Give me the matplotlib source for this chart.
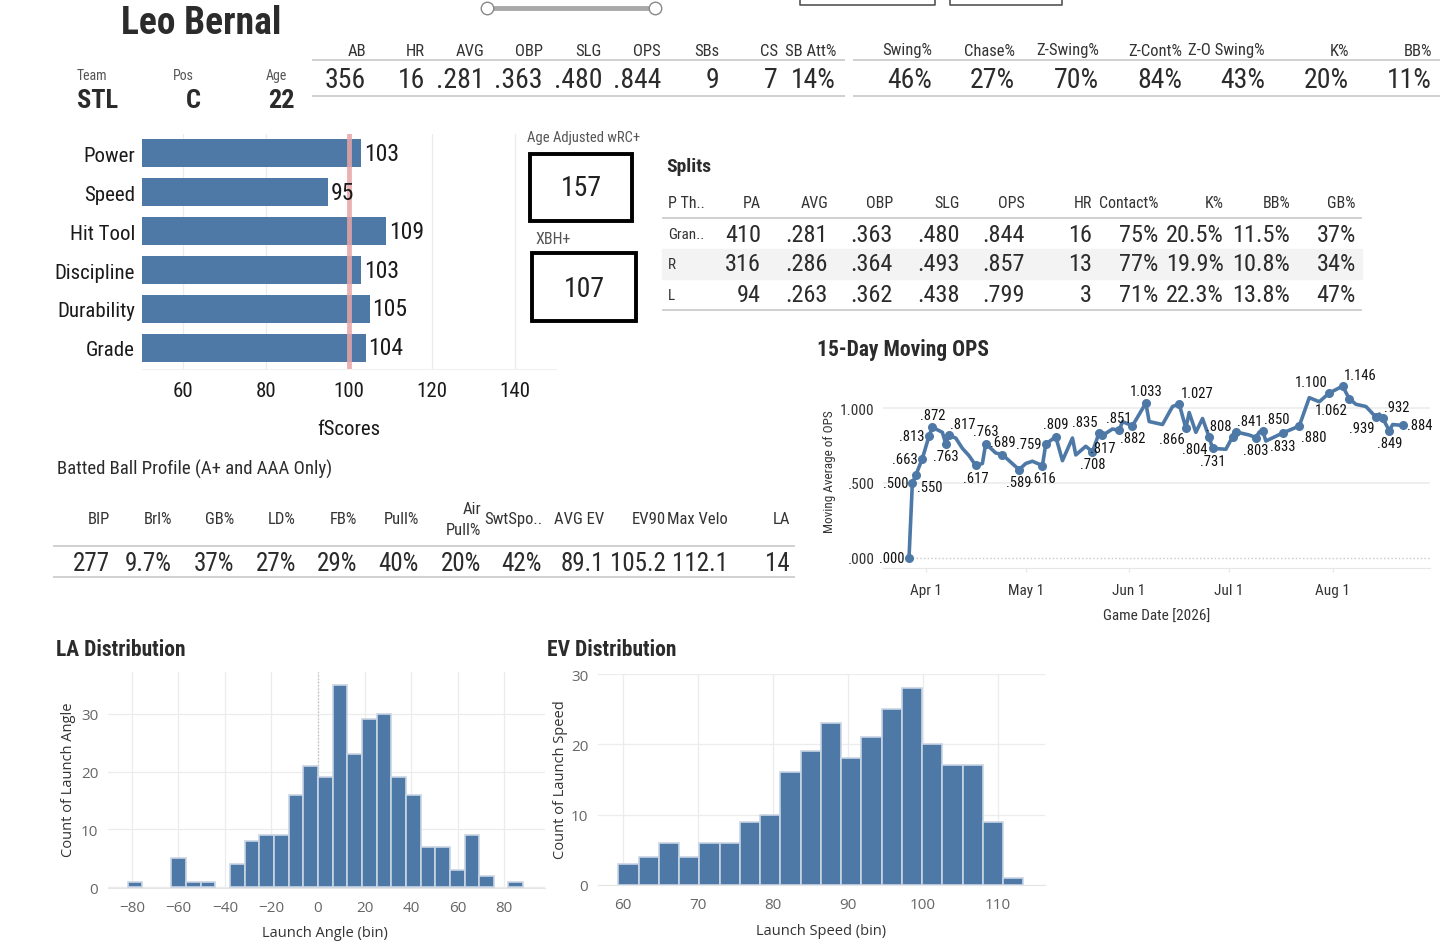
import os
import re
import numpy as np
import pandas as pd
import matplotlib
matplotlib.use("Agg")
import matplotlib.pyplot as plt
from matplotlib import font_manager as fm
from matplotlib.patches import Rectangle

# ---- data ----
player = "Leo Bernal"
team, pos, age = "STL", "C", "22"

top_cols1 = ["AB", "HR", "AVG", "OBP", "SLG", "OPS", "SBs", "CS", "SB Att%"]
top_vals1 = ["356", "16", ".281", ".363", ".480", ".844", "9", "7", "14%"]
top_cols2 = ["Swing%", "Chase%", "Z-Swing%", "Z-Cont%", "Z-O Swing%", "K%", "BB%"]
top_vals2 = ["46%", "27%", "70%", "84%", "43%", "20%", "11%"]

fscore_cats = ["Power", "Speed", "Hit Tool", "Discipline", "Durability", "Grade"]
fscore_vals = [103, 95, 109, 103, 105, 104]
wrc_plus = 157
xbh_plus = 107

split_cols = ["P Th..", "PA", "AVG", "OBP", "SLG", "OPS", "HR", "Contact%", "K%", "BB%", "GB%"]
split_gran = ["Gran..", "410", ".281", ".363", ".480", ".844", "16", "75%", "20.5%", "11.5%", "37%"]
split_r = ["R", "316", ".286", ".364", ".493", ".857", "13", "77%", "19.9%", "10.8%", "34%"]
split_l = ["L", "94", ".263", ".362", ".438", ".799", "3", "71%", "22.3%", "13.8%", "47%"]

bb_cols = ["BIP", "Brl%", "GB%", "LD%", "FB%", "Pull%", "Air\nPull%", "SwtSpo..",
           "AVG EV", "EV90", "Max Velo", "LA"]
bb_vals = ["277", "9.7%", "37%", "27%", "29%", "40%", "20%", "42%", "89.1", "105.2", "112.1", "14"]

ops_dates = ["2026-03-27", "2026-03-28", "2026-03-29", "2026-03-31", "2026-04-02", "2026-04-03",
             "2026-04-06", "2026-04-07", "2026-04-08", "2026-04-10", "2026-04-12", "2026-04-14",
             "2026-04-16", "2026-04-18", "2026-04-19", "2026-04-22", "2026-04-24", "2026-04-29",
             "2026-05-01", "2026-05-03", "2026-05-06", "2026-05-07", "2026-05-10", "2026-05-12",
             "2026-05-15", "2026-05-16", "2026-05-19", "2026-05-21", "2026-05-23", "2026-05-24",
             "2026-05-27", "2026-05-29", "2026-05-30", "2026-06-02", "2026-06-06", "2026-06-07",
             "2026-06-11", "2026-06-12", "2026-06-14", "2026-06-16", "2026-06-18", "2026-06-19",
             "2026-06-21", "2026-06-23", "2026-06-25", "2026-06-26", "2026-06-30", "2026-07-02",
             "2026-07-03", "2026-07-07", "2026-07-09", "2026-07-10", "2026-07-11", "2026-07-12",
             "2026-07-17", "2026-07-22", "2026-07-25", "2026-07-28", "2026-07-31", "2026-08-04",
             "2026-08-06", "2026-08-08", "2026-08-11", "2026-08-14", "2026-08-15", "2026-08-16",
             "2026-08-18", "2026-08-19", "2026-08-22"]
ops_vals = [0.000, 0.500, 0.550, 0.663, 0.813, 0.872,
            0.838, 0.763, 0.817, 0.800, 0.731, 0.682,
            0.617, 0.630, 0.763, 0.700, 0.689, 0.589,
            0.630, 0.645, 0.616, 0.759, 0.809, 0.649,
            0.800, 0.687, 0.745, 0.708, 0.835, 0.817,
            0.860, 0.851, 0.909, 0.882, 1.033, 0.910,
            0.890, 0.930, 1.010, 1.027, 0.866, 0.970,
            0.838, 0.930, 0.804, 0.731, 0.725, 0.808,
            0.841, 0.820, 0.803, 0.840, 0.850, 0.780,
            0.833, 0.880, 1.069, 1.042, 1.100, 1.146,
            1.062, 1.025, 1.010, 0.939, 0.960, 0.932,
            0.849, 0.890, 0.884]
ops_labeled = [1, 1, 1, 1, 1, 1,
               0, 1, 1, 0, 0, 0,
               1, 0, 1, 0, 1, 1,
               0, 0, 1, 1, 1, 0,
               0, 0, 0, 1, 1, 1,
               0, 1, 0, 1, 1, 0,
               0, 0, 0, 1, 1, 0,
               0, 0, 1, 1, 0, 1,
               1, 0, 1, 0, 1, 0,
               1, 1, 0, 0, 1, 1,
               1, 0, 0, 1, 0, 1,
               1, 0, 1]
# where each point label sits relative to its point (labeled points only)
ops_lab_pos = ["l", "l", "br", "l", "l", "a", "b", "ar", "b", "a", "a", "b", "b", "l", "a",
               "b", "al", "b", "a", "b", "a", "ar", "bl", "bl", "b", "al", "ar", "b", "ar", "b",
               "br", "al", "ar", "bl", "bl", "ar", "b", "r"]
ops_ticks = ["2026-04-01", "2026-05-01", "2026-06-01", "2026-07-01", "2026-08-01"]
ops_tick_labels = ["Apr 1", "May 1", "Jun 1", "Jul 1", "Aug 1"]

la_bin_width = 6.3
la_bins = [-13, -10, -9, -8, -6, -5, -4, -3, -2, -1, 0, 1, 2, 3, 4, 5, 6, 7, 8, 9, 10, 11, 13]
la_counts = [1, 5, 1, 1, 4, 8, 9, 9, 16, 21, 19, 35, 23, 29, 30, 19, 16, 7, 7, 3, 9, 2, 1]

ev_bin_width = 2.7
ev_bins = list(range(22, 42))
ev_counts = [3, 4, 6, 4, 6, 6, 9, 10, 16, 19, 23, 18, 21, 25, 28, 20, 17, 17, 9, 1]

# ---- fonts: look for an installed condensed face ----
font_files = {}
for f in fm.fontManager.ttflist:
    key = re.sub(r"[^a-z]", "", os.path.splitext(os.path.basename(f.fname))[0].lower())
    font_files.setdefault(key, f.fname)


def find_font(keys):
    for k in keys:
        if k in font_files:
            return font_files[k]
    return None


cond_reg = find_font(["robotocondensedregular", "robotocondensed", "liberationsansnarrowregular",
                      "notosanscondensed", "dejavusanscondensed"])
cond_bold = find_font(["robotocondensedbold", "liberationsansnarrowbold",
                       "notosanscondensedbold", "dejavusanscondensedbold"])


def narrow(size, bold=False):
    f = cond_bold if bold else cond_reg
    if f is None and bold and cond_reg is not None:
        return fm.FontProperties(fname=cond_reg, size=size, weight="bold")
    if f is None:
        return fm.FontProperties(family="DejaVu Sans", stretch="condensed", size=size * 0.85,
                                 weight="bold" if bold else "normal")
    return fm.FontProperties(fname=f, size=size)


def plain(size):
    return fm.FontProperties(family=["Open Sans", "DejaVu Sans"], size=size)


# ---- style ----
W, H = 1456, 953
BLUE = "#4e79a7"
LINE = "#d0d0d0"
GRID = "#ececec"

fig = plt.figure(figsize=(W / 100, H / 100), dpi=100)
fig.patch.set_facecolor("white")


def px_axes(x0, y0, x1, y1):
    return fig.add_axes([x0 / W, 1 - y1 / H, (x1 - x0) / W, (y1 - y0) / H])


# overlay in pixel coordinates for texts and table rules
ov = fig.add_axes([0, 0, 1, 1])
ov.set_xlim(0, W)
ov.set_ylim(H, 0)
ov.axis("off")
ov.set_zorder(10)


def txt(x, y, s, size, ha="left", va="center", bold=False, color="#222222", fp=None, **kw):
    ov.text(x, y, s, ha=ha, va=va, color=color,
            fontproperties=fp if fp is not None else narrow(size, bold), **kw)


def hline(y, x0, x1, color=LINE, lw=1.4):
    ov.plot([x0, x1], [y, y], color=color, lw=lw, solid_capstyle="butt")


# ---- header ----
txt(201, 24, player, 27, ha="center", bold=True, color="#2b2b2b")
ov.plot([487, 655], [9, 9], color="#a8a8a8", lw=3.5)
ov.plot([487, 655], [9, 9], "o", ms=9, mfc="white", mec="#888888", mew=1)
for bx0, bx1 in [(800, 935), (950, 1062)]:
    ov.plot([bx0, bx0, bx1, bx1], [-2, 6, 6, -2], color="#555555", lw=1.2)

for lab, val, xl, xv in [("Team", team, 92, 98), ("Pos", pos, 183, 193), ("Age", age, 276, 281)]:
    txt(xl, 76, lab, 10, ha="center", color="#555555")
    txt(xv, 101, val, 19, ha="center", bold=True, color="#2b2b2b")

x1s = [366, 425, 484, 543, 602, 661, 719, 778, 836]
for c, v, x in zip(top_cols1, top_vals1, x1s):
    txt(x, 51, c, 12, ha="right", color="#333333")
    txt(x, 81, v, 20, ha="right", color="#2b2b2b")
hline(61, 312, 845)
hline(97, 312, 845)
x2s = [932, 1015, 1099, 1182, 1265, 1349, 1432]
for c, v, x in zip(top_cols2, top_vals2, x2s):
    txt(x, 51, c, 12, ha="right", color="#333333")
    txt(x, 81, v, 20, ha="right", color="#2b2b2b")
hline(61, 853, 1440)
hline(97, 853, 1440)

# ---- fScores ----
ax = px_axes(142, 135, 556, 370)
ypos = np.arange(len(fscore_cats))
ax.barh(ypos, fscore_vals, height=0.72, color=BLUE, zorder=2)
ax.axvline(100, color="#e8a6a6", lw=3.5, alpha=0.85, zorder=3)
for y, v in zip(ypos, fscore_vals):
    ax.text(v + 0.6, y, str(v), va="center", ha="left", fontproperties=narrow(17), color="#1a1a1a")
ax.set_xlim(50, 150)
ax.set_ylim(5.54, -0.49)
ax.set_xticks([60, 80, 100, 120, 140])
ax.set_yticks(ypos)
ax.set_yticklabels(fscore_cats)
ax.grid(axis="x", color=GRID, lw=0.9, zorder=0)
ax.tick_params(length=0, pad=5)
ax.tick_params(axis="x", pad=9)
for t in ax.get_xticklabels() + ax.get_yticklabels():
    t.set_fontproperties(narrow(15))
    t.set_color("#1a1a1a")
for s in ["top", "left", "right"]:
    ax.spines[s].set_visible(False)
ax.spines["bottom"].set_color("#f0f0f0")
ax.set_xlabel("fScores", fontproperties=narrow(15), labelpad=13, color="#1a1a1a")

txt(527, 138, "Age Adjusted wRC+", 10.5, color="#555555")
ov.add_patch(Rectangle((530, 155), 102, 67, fill=False, lw=2.8, ec="black"))
txt(581, 189, str(wrc_plus), 20, ha="center")
txt(535, 240, "XBH+", 11.5, color="#555555")
ov.add_patch(Rectangle((532, 254), 104, 68, fill=False, lw=2.8, ec="black"))
txt(584, 290, str(xbh_plus), 20, ha="center")

# ---- splits ----
txt(666, 167, "Splits", 14, bold=True, color="#2b2b2b")
sx = [668, 761, 828, 893, 960, 1025, 1092, 1158, 1224, 1290, 1356]
ov.add_patch(Rectangle((662, 250), 700, 30, color="#f3f3f3", zorder=0))
for i, c in enumerate(split_cols):
    txt(sx[i], 204, c, 11.5, ha="left" if i == 0 else "right", color="#333333")
for row, y in zip([split_gran, split_r, split_l], [235, 265, 296]):
    for i, v in enumerate(row):
        if i == 0:
            txt(sx[i], y, v, 11, color="#333333")
        else:
            txt(sx[i], y, v, 17.5, ha="right", color="#2b2b2b")
hline(219, 662, 1362)
hline(311, 662, 1362)

# ---- batted ball profile ----
txt(57, 469, "Batted Ball Profile (A+ and AAA Only)", 13.5, color="#2b2b2b")
bx = [110, 172, 234, 296, 357, 419, 481, 542, 604, 666, 728, 790]
for c, v, x in zip(bb_cols, bb_vals, bx):
    txt(x, 520, c, 12, ha="right", color="#333333", linespacing=1.5)
    txt(x, 564, v, 18, ha="right", color="#2b2b2b")
hline(547, 53, 795)
hline(578, 53, 795)

# ---- 15-day moving OPS ----
axo = px_axes(883, 375, 1430, 569)
d = pd.to_datetime(ops_dates)
v = np.array(ops_vals)
lab = np.array(ops_labeled, dtype=bool)
axo.plot(d, v, color=BLUE, lw=2.6, solid_joinstyle="round", zorder=3)
axo.plot(d[lab], v[lab], "o", ms=5.5, color=BLUE, zorder=4)
offs = {"l": (-3, 0, "right", "center"), "r": (3, 0, "left", "center"),
        "a": (0, 4, "center", "bottom"), "b": (0, -4, "center", "top"),
        "al": (-1, 3, "right", "bottom"), "ar": (1, 3, "left", "bottom"),
        "bl": (-1, -3, "right", "top"), "br": (1, -3, "left", "top")}
for dd, vv, p in zip(d[lab], v[lab], ops_lab_pos):
    dx, dy, ha, va = offs[p]
    s = f"{vv:.3f}"
    s = s[1:] if s.startswith("0") else s
    axo.annotate(s, (dd, vv), xytext=(dx, dy), textcoords="offset points", ha=ha, va=va,
                 fontproperties=narrow(10.5), color="#111111", zorder=5)
apr1 = pd.Timestamp("2026-04-01")
axo.set_xlim(apr1 - pd.Timedelta(days=12.8), apr1 + pd.Timedelta(days=151.2))
axo.set_ylim(-0.067, 1.227)
axo.set_yticks([0, 0.5, 1.0])
axo.set_yticklabels([".000", ".500", "1.000"])
axo.set_xticks(pd.to_datetime(ops_ticks))
axo.set_xticklabels(ops_tick_labels)
for yv in [0.5, 1.0]:
    axo.axhline(yv, color=GRID, lw=1.2, zorder=0)
axo.axhline(0, color="#c8c8c8", lw=1, ls=":", zorder=0)
for s in ["top", "left", "right"]:
    axo.spines[s].set_visible(False)
axo.spines["bottom"].set_color("#e6e6e6")
axo.tick_params(axis="y", length=0, pad=6, labelcolor="#333333")
axo.tick_params(axis="x", length=3, color="#e6e6e6", pad=8, labelcolor="#333333")
for t in axo.get_xticklabels() + axo.get_yticklabels():
    t.set_fontproperties(narrow(11))
txt(817, 350, "15-Day Moving OPS", 15.5, bold=True, color="#2b2b2b")
txt(830, 472, "Moving Average of OPS", 9.5, ha="center", rotation=90, color="#333333")
txt(1157, 617, "Game Date [2026]", 11, ha="center", color="#333333")


# ---- histograms ----
def hist_axes(a, bins, counts, w, xlim, ylim, xt, yt):
    a.bar(np.array(bins) * w, counts, width=w, align="edge", color=BLUE,
          edgecolor="#c9d5e4", lw=1.2, zorder=3)
    a.set_xlim(*xlim)
    a.set_ylim(*ylim)
    a.set_xticks(xt)
    a.set_yticks(yt)
    a.grid(color=GRID, lw=0.9, zorder=0)
    a.set_axisbelow(True)
    for s in ["top", "left", "right"]:
        a.spines[s].set_visible(False)
    a.spines["bottom"].set_color("#e6e6e6")
    a.tick_params(length=0, labelcolor="#666666")
    a.tick_params(axis="x", pad=9)
    a.tick_params(axis="y", pad=7)
    for t in a.get_xticklabels() + a.get_yticklabels():
        t.set_fontproperties(plain(11))


axl = px_axes(108, 673, 545, 889)
hist_axes(axl, la_bins, la_counts, la_bin_width, (-90.3, 97.6), (-0.12, 37.2),
          [-80, -60, -40, -20, 0, 20, 40, 60, 80], [0, 10, 20, 30])
axl.axvline(0, color="#bbbbbb", lw=0.9, ls=":", zorder=1)
txt(56, 650, "LA Distribution", 15.5, bold=True, color="#2b2b2b")
txt(68, 780, "Count of Launch Angle", 11, ha="center", rotation=90, color="#333333", fp=plain(10.5))
txt(325, 934, "Launch Angle (bin)", 11, ha="center", color="#333333", fp=plain(10.5))

axe = px_axes(598, 675, 1045, 886)
hist_axes(axe, ev_bins, ev_counts, ev_bin_width, (56.7, 116.3), (-0.05, 30.05),
          [60, 70, 80, 90, 100, 110], [0, 10, 20, 30])
txt(547, 650, "EV Distribution", 15.5, bold=True, color="#2b2b2b")
txt(560, 780, "Count of Launch Speed", 11, ha="center", rotation=90, color="#333333", fp=plain(10.5))
txt(821, 932, "Launch Speed (bin)", 11, ha="center", color="#333333", fp=plain(10.5))

fig.savefig("out.png", dpi=100)
